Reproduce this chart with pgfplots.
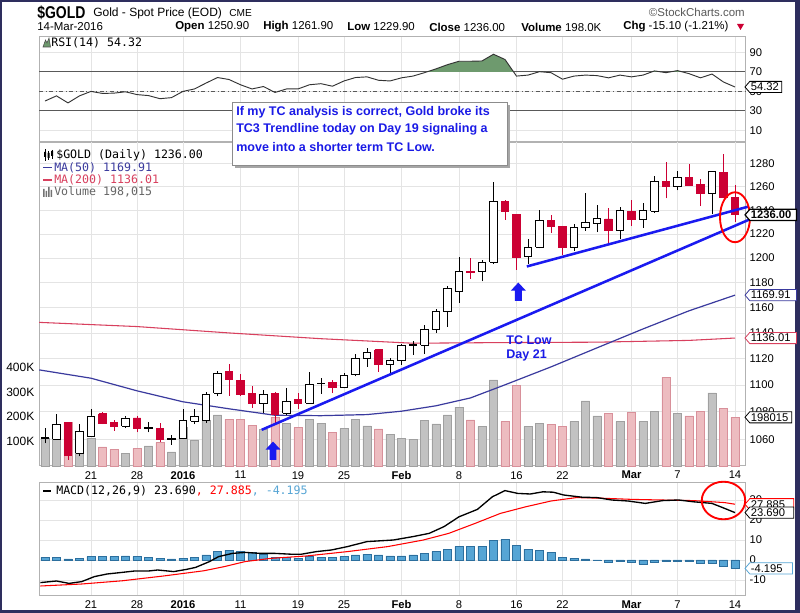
\documentclass[border=0pt]{standalone}
\usepackage{fontspec}
\setmainfont{Liberation Sans}
\newfontfamily\monof{DejaVu Sans Mono}
\newfontfamily\symf[FakeStretch=0.82]{Liberation Sans}
\usepackage{pgfplots}
\pgfplotsset{compat=1.18}

\definecolor{framec}{HTML}{2E2E5E}
\definecolor{gridc}{HTML}{E4E4E4}
\definecolor{cred}{HTML}{CC0033}
\definecolor{volg}{HTML}{C2C2C2}
\definecolor{volgb}{HTML}{A0A0A0}
\definecolor{volp}{HTML}{EDBCC0}
\definecolor{volpb}{HTML}{D8909A}
\definecolor{ma50}{HTML}{3A3A9E}
\definecolor{ma200}{HTML}{D8405E}
\definecolor{tline}{HTML}{1A1AF0}
\definecolor{rsig}{HTML}{6E9A6E}
\definecolor{histf}{HTML}{56A5D5}
\definecolor{histb}{HTML}{2C6F9E}
\definecolor{txtblue}{HTML}{1A1AE6}

\newcommand\fs[1]{\fontsize{#1}{#1}\selectfont}

% candles: style, index, open, high, low, close
\newcommand\candle[6]{%
  \pgfmathsetmacro\xl{#2-0.31}\pgfmathsetmacro\xr{#2+0.31}%
  \edef\tmp{\noexpand\addplot[#1w] coordinates {(#2,#5) (#2,#4)};
    \noexpand\addplot[#1b] coordinates {(\xl,#3) (\xr,#3) (\xr,#6) (\xl,#6) (\xl,#3)};}%
  \tmp}
\newcommand\up[5]{\candle{cu}{#1}{#2}{#3}{#4}{#5}}
\newcommand\dn[5]{\candle{cd}{#1}{#2}{#3}{#4}{#5}}

% value tag on the right edge: x, y, colour, text, width, line width
\newcommand\tagb[6]{%
  \draw[draw=#3, fill=white, line width=#6] (axis cs:#1,#2) -- ++(3.6pt,4.2pt) -- ++(#5,0pt)
    -- ++(0pt,-8.4pt) -- ++(-#5,0pt) -- cycle;
  \node[anchor=west, inner sep=0pt, font=\fs{8.4}] at ([xshift=4.2pt]axis cs:#1,#2) {#4};}

% right-hand tick label written as a node
\newcommand\ylab[1]{\node[anchor=west, inner sep=0.3333em, font=\fs{8.4}] at (axis cs:56.87,#1) {#1};}

\pgfplotsset{
  panel/.style={
    scale only axis, width=529.5pt, anchor=north west,
    xmin=-4.52, xmax=56.87,
    xtick={0,4,8,13,18,22,27,32,37,41,47,51,56},
    xmajorgrids, ymajorgrids,
    grid style={gridc, line width=0.6pt},
    axis line style={gray!60, line width=0.6pt},
    tick style={draw=none},
    yticklabel pos=right,
    tick label style={font=\fs{8.4}},
  },
  overlay/.style={
    scale only axis, width=529.5pt, anchor=north west,
    xmin=-4.52, xmax=56.87, hide axis, clip=false},
  dlabels/.style={
    xticklabels={21,28,\textbf{2016},11,19,25,\textbf{Feb},8,16,22,\textbf{Mar},7,14},
    xticklabel style={yshift=-0.5pt}},
  cuw/.style={black, line width=0.7pt},
  cub/.style={draw=black, fill=white, line width=0.7pt},
  cdw/.style={cred, line width=0.7pt},
  cdb/.style={draw=cred, fill=cred, line width=0.7pt},
}

\begin{document}
\begin{tikzpicture}
\path[use as bounding box] (0,0) rectangle (600pt,-459.75pt);
\fill[framec] (0,0) rectangle (600pt,-459.75pt);
\fill[white] (1.5pt,-1.5pt) rectangle (596.25pt,-457.5pt);

% ---------- RSI ----------
\begin{axis}[panel, at={(29.25pt,-27pt)}, height=79.5pt,
  ymin=-2.1, ymax=106.6, ytick={10,30,50,70,90}, yticklabels={10,30,50,70,90},
  xticklabels={}, clip=false]
\addplot[gray!70!black, line width=0.6pt] coordinates {(-4.52,70) (56.87,70)};
\addplot[gray!70!black, line width=0.6pt] coordinates {(-4.52,30) (56.87,30)};
\addplot[gray!70!black, line width=0.6pt, dash dot] coordinates {(-4.52,50) (56.87,50)};
\begin{scope}
\clip (axis cs:-5,70) rectangle (axis cs:57,106);
\addplot[fill=rsig, draw=none] coordinates {
 (28,65.5) (29,69) (30,72.9) (31,77.2) (32,80.7) (33,80.7) (34,81) (35,87.9) (36,82.5)
 (37,65.5) (38,66.5) (39,70) (40,69) (41,62.3) (42,65.5) (43,66.5) (44,66) (45,63.7)
 (46,66.5) (47,64.7) (48,66.5) (49,70.8) (50,69) (51,71.1) (52,68) (53,63.7)} \closedcycle;
\end{scope}
\addplot[black!80, line width=0.7pt] coordinates {
 (-4,39.9) (-3,45.2) (-2,38) (-1,45.2) (0,49.8) (1,47.7) (2,48) (3,49.4) (4,46.5) (5,45.5)
 (6,42.3) (7,43.4) (8,49.8) (9,52.3) (10,58.3) (11,64) (12,62) (13,56.6) (14,52.3) (15,54.8)
 (16,48.7) (17,52.3) (18,52.3) (19,56.6) (20,57.7) (21,55.1) (22,60.5) (23,64) (24,64.7)
 (25,61.2) (26,60.5) (27,63.7) (28,65.5) (29,69) (30,72.9) (31,77.2) (32,80.7) (33,80.7)
 (34,81) (35,87.9) (36,82.5) (37,65.5) (38,66.5) (39,70) (40,69) (41,62.3) (42,65.5)
 (43,66.5) (44,66) (45,63.7) (46,66.5) (47,64.7) (48,66.5) (49,70.8) (50,69) (51,71.1)
 (52,68) (53,63.7) (54,67.6) (55,59.4) (56,54.32)};
\tagb{56.87}{54.32}{black}{54.32}{24pt}{0.6pt}
\end{axis}

% ---------- price grid ----------
\begin{axis}[panel, dlabels, at={(29.25pt,-106.5pt)}, height=243pt,
  ymode=log, ymin=1040.8, ymax=1299.4,
  ytick={1060,1080,1100,1120,1140,1160,1180,1200,1220,1240,1260,1280},
  yticklabels={1060,1080,1100,1120,1140,1160,1180,1200,1220,1240,1260,1280}]
\end{axis}

% ---------- volume ----------
\begin{axis}[scale only axis, width=529.5pt, height=243pt, anchor=north west,
  at={(29.25pt,-106.5pt)}, xmin=-4.52, xmax=56.87, ymin=0, ymax=1317,
  axis line style={draw=none}, xtick=\empty, ytick={100,200,300,400},
  yticklabels={100K,200K,300K,400K}, tick style={draw=none},
  tick label style={font=\fs{9}}, clip=false]
\addplot[ybar, bar width=6.2pt, bar shift=0pt, fill=volg, draw=volgb] coordinates {
 (-4,111) (-3,143) (-1,136) (0,113) (3,52) (5,82) (7,57) (8,159) (9,106) (10,184) (11,208)
 (15,150) (17,173) (19,188) (20,174) (22,152) (23,189) (24,163) (26,129) (27,113) (28,109)
 (29,184) (30,171) (31,208) (32,238) (34,160) (35,350) (38,160) (39,174) (42,180) (43,265)
 (44,204) (46,180) (48,180) (49,222) (51,213) (54,297)};
\addplot[ybar, bar width=6.2pt, bar shift=0pt, fill=volp, draw=volpb] coordinates {
 (-2,177) (1,78) (2,68) (4,72) (6,95) (12,190) (13,190) (14,166) (16,197) (18,156) (21,137)
 (25,151) (33,187) (36,180) (37,327) (40,170) (41,160) (45,213) (47,218) (50,360) (52,204)
 (53,222) (55,234) (56,198)};
\tagb{56.87}{198}{black}{198015}{31.5pt}{0.6pt}
\end{axis}

% ---------- price data ----------
\begin{axis}[overlay, at={(29.25pt,-106.5pt)}, height=243pt,
  ymode=log, ymin=1040.8, ymax=1299.4]
\addplot[ma200, line width=0.8pt] coordinates {
 (-4.5,1148.3) (4,1145) (12,1140) (20,1135.5) (28,1132) (36,1132.5) (44,1132.8) (52,1134.2) (56,1136.01)};
\addplot[ma50, line width=0.9pt] coordinates {
 (-4.5,1111.5) (0,1105.2) (4,1095.7) (8,1087.5) (12,1082.3) (16,1077.5) (20,1077.2) (24,1078)
 (27,1080.5) (30,1084.5) (33,1090.4) (36,1100.2) (40,1113.8) (44,1128.4) (48,1143.1)
 (52,1157.4) (56,1169.91)};
\up{-4}{1060.5}{1068}{1057}{1061}
\up{-3}{1060}{1078.5}{1060}{1071}
\dn{-2}{1072}{1072.5}{1045}{1048}
\up{-1}{1050}{1071}{1047.5}{1065.5}
\up{0}{1062}{1082}{1062}{1077}
\dn{1}{1078.5}{1080}{1071}{1071.5}
\dn{2}{1072.5}{1074}{1066}{1069.5}
\up{3}{1069.5}{1077}{1068}{1075.5}
\dn{4}{1075.5}{1077}{1065}{1068}
\up{5}{1068}{1072.5}{1065}{1068.4}
\dn{6}{1068}{1071.5}{1058}{1060}
\up{7}{1059.8}{1063}{1056}{1060.2}
\up{8}{1060.5}{1082.5}{1060}{1073.5}
\up{9}{1073}{1082}{1071}{1076.5}
\up{10}{1073.5}{1095}{1072}{1093}
\up{11}{1094}{1110.5}{1091.5}{1108.5}
\dn{12}{1110}{1116}{1092}{1104}
\dn{13}{1103.5}{1108.5}{1092}{1093}
\dn{14}{1094}{1099}{1083}{1086}
\up{15}{1086}{1096}{1079}{1093}
\dn{16}{1094}{1095}{1072}{1078}
\up{17}{1079}{1097.5}{1077.5}{1088}
\dn{18}{1089}{1094}{1082}{1086.5}
\up{19}{1086.5}{1110}{1086}{1100.5}
\up{20}{1101}{1105.5}{1093.5}{1101.5}
\dn{21}{1102}{1104}{1094}{1098}
\up{22}{1098}{1109.5}{1097.5}{1107.5}
\up{23}{1108}{1124}{1106.5}{1120}
\up{24}{1120}{1128.5}{1114}{1124.5}
\dn{25}{1127}{1127.5}{1110}{1116}
\up{26}{1115.5}{1120.5}{1108.5}{1118.5}
\up{27}{1118.5}{1131.5}{1115.5}{1130}
\up{28}{1130}{1133.5}{1123}{1131}
\up{29}{1130.5}{1146}{1124}{1143}
\up{30}{1142.5}{1158.5}{1140}{1156.5}
\up{31}{1156.5}{1177}{1145}{1175}
\up{32}{1173}{1201}{1164}{1189}
\dn{33}{1189}{1200}{1183}{1188.5}
\up{34}{1189}{1198.5}{1181}{1196.5}
\up{35}{1196.5}{1264.5}{1195}{1247}
\dn{36}{1247}{1249}{1232}{1238.5}
\dn{37}{1236.5}{1237}{1190.5}{1200.5}
\up{38}{1201.5}{1215.5}{1195}{1209}
\up{39}{1209}{1240.5}{1208}{1231.5}
\dn{40}{1231.5}{1235.5}{1221}{1226.5}
\dn{41}{1226.5}{1227}{1202.5}{1209}
\up{42}{1208.5}{1228.5}{1206}{1225}
\up{43}{1225}{1254.5}{1222.5}{1229.5}
\up{44}{1228.5}{1244}{1221.5}{1233}
\dn{45}{1232.5}{1241.5}{1212.5}{1222.5}
\up{46}{1222.5}{1243}{1215.5}{1239.5}
\dn{47}{1239}{1249}{1227}{1232}
\up{48}{1232.5}{1246}{1225}{1240}
\up{49}{1239}{1269.5}{1238}{1265}
\dn{50}{1265}{1282}{1250}{1260}
\up{51}{1260}{1274}{1257}{1268}
\dn{52}{1268}{1280}{1261}{1261.5}
\dn{53}{1262}{1266.5}{1243.5}{1254}
\up{54}{1254.5}{1274}{1237}{1273}
\dn{55}{1272.5}{1289}{1250}{1251}
\dn{56}{1250.9}{1261.9}{1229.9}{1236}
% trendlines
\addplot[tline, line width=1.9pt] coordinates {(14.84,1066.8) (57.4,1232.7)};
\addplot[tline, line width=1.9pt] coordinates {(37.9,1193.1) (57.2,1243.1)};
% arrows
\fill[tline] (axis cs:15.83,1058.3) -- ++(-5.6pt,-6pt) -- ++(3pt,0pt) -- ++(0pt,-7.8pt)
  -- ++(5.2pt,0pt) -- ++(0pt,7.8pt) -- ++(3pt,0pt) -- cycle;
\fill[tline] (axis cs:37.16,1180) -- ++(-5.6pt,-6pt) -- ++(3pt,0pt) -- ++(0pt,-7.8pt)
  -- ++(5.2pt,0pt) -- ++(0pt,7.8pt) -- ++(3pt,0pt) -- cycle;
\draw[red, line width=1.4pt] (axis cs:56,1234) ellipse [x radius=11.25pt, y radius=18.75pt];
\node[anchor=west, inner sep=0pt, text=txtblue, font=\bfseries\fs{9.4}, align=left]
  at (axis cs:36.1,1128) {TC Low\\[1pt]Day 21};
\tagb{56.87}{1136.01}{ma200}{1136.01}{35pt}{0.6pt}
\tagb{56.87}{1169.91}{ma50}{1169.91}{35pt}{0.6pt}
\tagb{56.87}{1236}{black}{\textbf{1236.00}}{35pt}{0.9pt}
\end{axis}

% ---------- MACD grid and labels ----------
\begin{axis}[panel, dlabels, at={(29.25pt,-361.5pt)}, height=84.75pt,
  ymin=-17.5, ymax=39, ytick={-10,0,10,20,30}, yticklabels={}, clip=false]
\ylab{-10}\ylab{0}\ylab{10}\ylab{20}\ylab{30}
\end{axis}

% ---------- MACD data ----------
\begin{axis}[overlay, at={(29.25pt,-361.5pt)}, height=84.75pt, ymin=-17.5, ymax=39]
\addplot[ybar, bar width=6.2pt, bar shift=0pt, fill=histf, draw=histb, line width=0.4pt] coordinates {
 (-4,1.3) (-3,1.3) (-2,0.5) (-1,0.8) (0,1.7) (1,1.7) (2,1.7) (3,2.1) (4,1.7) (5,1.3) (6,0.8)
 (7,0.5) (8,0.8) (9,1.3) (10,2.5) (11,4.5) (12,5) (13,4.5) (14,3.7) (15,2.9) (16,1.2) (17,1.2)
 (18,0.8) (19,1.7) (20,1.3) (21,1.2) (22,1.7) (23,2.5) (24,2.9) (25,2.5) (26,2) (27,2.1)
 (28,2.5) (29,3.3) (30,4.2) (31,5.4) (32,6.7) (33,7) (34,7) (35,10) (36,10.5) (37,7.5)
 (38,5.4) (39,5) (40,3.8) (41,1.3) (42,0.8) (43,0.5) (44,0.1) (45,-1.2) (46,-0.8) (47,-1.2)
 (48,-2.1) (49,-1.2) (50,-0.8) (51,-0.4) (52,-0.8) (53,-1.7) (54,-1.7) (55,-3.3) (56,-4.195)};
\addplot[red, line width=0.8pt] coordinates {
 (-4.4,-13) (-0.8,-12) (2.7,-10.4) (6.3,-8) (9.8,-5.4) (11.6,-3.3) (13.4,-0.8) (15.6,0.8)
 (18.7,2) (22.3,4.2) (25.8,6.7) (28.9,10) (31.1,13.3) (33.4,18.3) (35.6,23.3) (37.8,26.6)
 (40,29.5) (42.2,31.2) (44.4,30.9) (47.1,30.3) (49.7,30) (52.4,29.7) (55.1,28.7) (56,27.885)};
\addplot[black, line width=1pt] coordinates {
 (-4.4,-11.3) (-3,-10.5) (-1.9,-11.7) (-0.8,-10.8) (0.3,-8.3) (1.4,-7) (2.7,-6.2) (3.8,-5.5)
 (5,-5.5) (5.8,-5) (7.2,-5.8) (8.3,-4.7) (9.1,-3.7) (10.3,-0.8) (11.1,1.7) (12.3,3.3)
 (13.4,3.8) (14.7,3.3) (16,3.3) (17.4,2.9) (18.3,2.9) (19.6,4.2) (20.9,5) (22.3,6.7) (24,9.2)
 (26.3,10) (28,11.7) (29.4,13.3) (30.7,16.7) (32,21.6) (33.6,25.3) (34.9,31.6) (36,34.7)
 (37.1,33.3) (38.2,33) (39.3,34.1) (40.2,33.9) (41.1,32.5) (42.7,31.4) (44,31.2) (45.3,30)
 (46.7,29.5) (48.2,28.3) (49.7,29.7) (51.1,30) (52.4,29.1) (54,28.3) (55.1,25.8) (56,23.69)};
\draw[red, line width=1.4pt] (axis cs:55,29.75) ellipse [x radius=16.3pt, y radius=14.1pt];
\tagb{56.87}{27.885}{red}{27.885}{33pt}{0.6pt}
\tagb{56.87}{23.69}{black}{23.690}{33pt}{0.6pt}
\tagb{56.87}{-4.195}{histf}{-4.195}{32pt}{0.6pt}
\end{axis}

% ---------- texts in pixel coordinates ----------
\begin{scope}[x=0.75pt, y=-0.75pt]
\node[anchor=west, inner sep=0pt, font=\symf\bfseries\fs{12.8}] at (37,13) {\$GOLD};
\node[anchor=west, inner sep=0pt, font=\fs{9}] at (93,13) {Gold - Spot Price (EOD)};
\node[anchor=west, inner sep=0pt, font=\fs{7.6}] at (229,13.5) {CME};
\node[anchor=east, inner sep=0pt, font=\fs{8.6}, text=black!65] at (745,12) {\textcopyright StockCharts.com};
\node[anchor=west, inner sep=0pt, font=\fs{8.6}] at (37,27) {14-Mar-2016};
\node[anchor=west, inner sep=0pt, font=\fs{8.6}] at (175,27) {\textbf{Open} 1250.90};
\node[anchor=west, inner sep=0pt, font=\fs{8.6}] at (263,27) {\textbf{High} 1261.90};
\node[anchor=west, inner sep=0pt, font=\fs{8.6}] at (347,27) {\textbf{Low} 1229.90};
\node[anchor=west, inner sep=0pt, font=\fs{8.6}] at (429,27) {\textbf{Close} 1236.00};
\node[anchor=west, inner sep=0pt, font=\fs{8.6}] at (521,27) {\textbf{Volume} 198.0K};
\node[anchor=west, inner sep=0pt, font=\fs{8.6}] at (623,27) {\textbf{Chg} -15.10 (-1.21\%)};
\fill[cred] (737,24) -- (744,24) -- (740.5,30) -- cycle;

% RSI legend
\filldraw[fill=rsig, draw=black!70, line width=0.4pt] (43,47) -- (45.5,40) -- (47,43) -- (49,38) -- (50.5,47) -- cycle;
\node[anchor=west, inner sep=0pt, font=\monof\fs{8.7}] at (51,43) {RSI(14) 54.32};

% price legend
\draw[black, line width=0.6pt] (45,149) -- (45,161) (48.5,151) -- (48.5,160) (52,150) -- (52,159);
\fill[black] (44,152) rectangle (46,157) (47.5,153) rectangle (49.5,158) (51,151) rectangle (53,156);
\node[anchor=west, inner sep=0pt, font=\monof\fs{8.7}] at (56,155) {\$GOLD (Daily) 1236.00};
\draw[ma50, line width=1pt] (43,167.5) -- (52,167.5);
\node[anchor=west, inner sep=0pt, font=\monof\fs{8.7}, text=ma50] at (54,167.5) {MA(50) 1169.91};
\draw[ma200, line width=1pt] (43,180) -- (52,180);
\node[anchor=west, inner sep=0pt, font=\monof\fs{8.7}, text=ma200] at (54,180) {MA(200) 1136.01};
\fill[black!55] (43,189) rectangle (44.5,197) (45.5,191) rectangle (47,197) (48,187) rectangle (49.5,197) (50.5,190) rectangle (52,197);
\node[anchor=west, inner sep=0pt, font=\monof\fs{8.7}, text=black!60] at (54,192) {Volume 198,015};

% MACD legend
\draw[black, line width=1.2pt] (43,491) -- (51,491);
\node[anchor=west, inner sep=0pt, font=\monof\fs{8.7}] at (56,491)
  {MACD(12,26,9) 23.690\textcolor{red}{, 27.885}\textcolor{histf}{, -4.195}};

% comment box
\fill[black!35] (235,105) rectangle (510,168);
\filldraw[draw=black!45, fill=white, line width=0.6pt] (232,102) rectangle (507,165);
\node[anchor=west, inner sep=0pt, text=txtblue, font=\bfseries\fs{9.4}] at (236,112) {If my TC analysis is correct, Gold broke its};
\node[anchor=west, inner sep=0pt, text=txtblue, font=\bfseries\fs{9.4}] at (236,129.5) {TC3 Trendline today on Day 19 signaling a};
\node[anchor=west, inner sep=0pt, text=txtblue, font=\bfseries\fs{9.4}] at (236,147) {move into a shorter term TC Low.};
\end{scope}
\end{tikzpicture}
\end{document}
